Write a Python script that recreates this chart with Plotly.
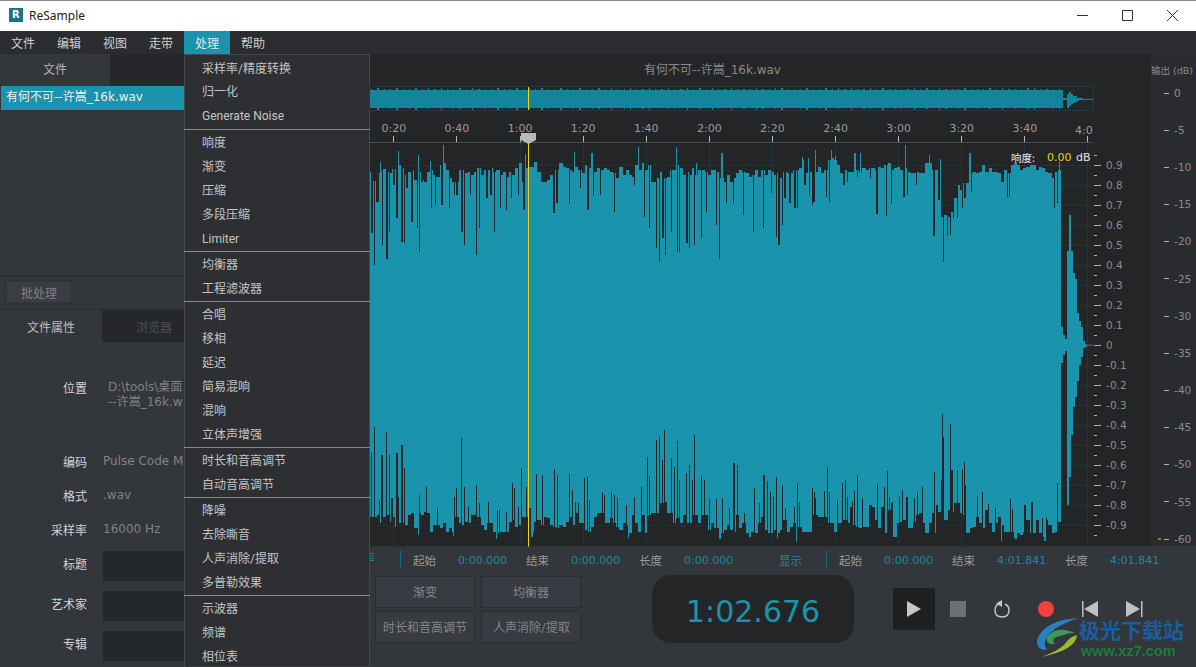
import plotly.graph_objects as go

W, H = 1196, 667

# waveform envelope, one value per second starting at 0:13
wave_top = [.865,.82,.86,.87,.88,.865,.86,.88,
    .88,.90,.885,.852,.868,.877,.827,.868,.827,.818,
    .868,.877,.852,.843,.90,.91,.877,.835,.818,.818,
    .877,.877,.86,.868,.852,.868,.885,.852,.877,.877,
    .885,.868,.877,.852,.868,.843,.868,.852,.885,.91,
    .818,.885,.893,.893,.918,.868,.818,.818,.827,.852,
    .877,.877,.91,.893,.885,.877,.868,.89,.877,.86,
    .90,.885,.90,.868,.885,.877,.885,.877,.868,.86,
    .835,.893,.852,.877,.852,.843,.90,.877,.91,.877,
    .90,.818,.818,.835,.868,.835,.843,.877,.877,.90,
    .885,.852,.868,.852,.885,.852,.877,.877,.868,.852,
    .877,.877,.868,.835,.818,.852,.818,.835,.86,.877,
    .868,.86,.843,.852,.877,.843,.877,.852,.877,.868,
    .85,.86,.835,.868,.86,.86,.877,.877,.885,.926,
    .86,.868,.926,.868,.893,.86,.877,.926,.935,.926,
    .90,.86,.877,.868,.868,.868,.877,.86,.885,.877,
    .885,.885,.877,.893,.885,.90,.91,.877,.885,.893,
    .877,.885,.868,.86,.86,.868,.86,.86,.91,.91,
    .877,.877,.727,.643,.652,.643,.668,.735,.80,.777,
    .81,.81,.86,.868,.86,.868,.90,.868,.885,.868,
    .868,.86,.818,.877,.86,.90,.91,.90,.877,.885,
    .893,.90,.90,.877,.893,.885,.868,.86,.835,.868,.877]
wave_bottom = [-.857,-.857,-.849,-.89,-.857,-.849,-.882,-.857,
    -.907,-.89,-.89,-.899,-.849,-.84,-.915,-.84,-.849,-.832,
    -.84,-.932,-.899,-.899,-.915,-.89,-.932,-.915,-.932,-.857,
    -.89,-.899,-.882,-.89,-.849,-.849,-.857,-.899,-.924,-.89,
    -.89,-.932,-.94,-.932,-.932,-.932,-.882,-.874,-.907,-.899,
    -.857,-.857,-.815,-.932,-.882,-.874,-.899,-.857,-.865,-.899,
    -.907,-.915,-.899,-.907,-.882,-.857,-.899,-.84,-.89,-.89,
    -.924,-.932,-.907,-.857,-.84,-.84,-.89,-.89,-.865,-.89,
    -.907,-.924,-.89,-.899,-.94,-.849,-.89,-.932,-.849,-.94,
    -.849,-.84,-.84,-.84,-.79,-.782,-.84,-.84,-.89,-.865,
    -.89,-.849,-.89,-.89,-.849,-.849,-.89,-.849,-.849,-.924,
    -.89,-.915,-.915,-.94,-.924,-.899,-.924,-.932,-.849,-.915,
    -.89,-.94,-.932,-.932,-.94,-.89,-.857,-.924,-.94,-.94,
    -.924,-.94,-.924,-.874,-.932,-.907,-.89,-.907,-.907,-.932,
    -.932,-.932,-.849,-.849,-.857,-.857,-.857,-.89,-.89,-.932,
    -.89,-.89,-.874,-.89,-.807,-.899,-.907,-.915,-.907,-.907,
    -.798,-.807,-.874,-.915,-.807,-.94,-.824,-.79,-.957,-.89,
    -.882,-.874,-.915,-.915,-.882,-.849,-.84,-.89,-.94,-.89,
    -.84,-.94,-.832,-.674,-.874,-.824,-.832,-.79,-.79,-.84,
    -.849,-.94,-.915,-.907,-.857,-.89,-.915,-.824,-.89,-.932,
    -.89,-.857,-.899,-.932,-.932,-.932,-.965,-.94,-.948,-.932,
    -.874,-.94,-.94,-.874,-.94,-.957,-.874,-.899,-.94,-.932,-.882]

# dark one-pixel gaps cutting into the upper half
notch_top_t = [13.1,13.9,14.7,15.2,16.3,17.8,18.7,20,21,22.6,23.4,24.2,25.8,27.4,28.2,28.9,31.9,33.3,35.3,37.7,
    39.3,40,41.6,42.4,44.2,46.2,47.2,49.5,50.8,52,53.7,55.6,57.4,59.6,61.3,62.7,67.5,70.8,71.7,75.7,
    79.1,81.5,83.3,85.4,90,96.2,99.5,101,103.3,104.2,105.3,106.2,108.1,109.9,110.5,112.9,113.7,115.3,117.6,119.2,
    122.2,123.2,125.5,127.7,130.8,134,137.2,139.8,141.2,142.1,143.2,144,145.6,147.2,147.9,150.3,151.7,152.7,153.2,157.2,
    158,162.7,163.8,166.9,171,173.1,176.2,177.8,181.7,182.8,185.7,191.2,193.6,194.2,195.4,196.5,197.3,198.6,200.2,201,
    203.2,214.4,215.1,229.3,230.3]
notch_top = [.56,.402,.718,.718,.502,.432,.568,.802,.635,.518,.51,.785,.618,.585,.468,.818,.685,.702,.702,.685,
    .75,.75,.568,.502,.75,.452,.585,.735,.75,.568,.685,.677,.735,.75,.677,.75,.818,.66,.71,.71,
    .785,.677,.75,.75,.668,.802,.643,.585,.488,.415,.535,.452,.568,.468,.468,.51,.485,.502,.535,.668,
    .60,.432,.71,.71,.652,.568,.585,.76,.54,.50,.60,.735,.71,.685,.685,.80,.752,.70,.718,.743,
    .718,.80,.818,.843,.835,.657,.647,.713,.743,.752,.80,.547,.685,.418,.547,.55,.635,.635,.685,.735,
    .768,.743,.743,.685,.713]

# thin peaks standing above the upper envelope
peak_top_t = [15.7,21.5,25.8,27.9,29,31.6,35.8,50.6,61.7,77.3,82.8,97.6,109.5,116,124,134,145.6,149.5,151.4,153.6,
    158.8,159.9,166.2,168,182.2,189.7,193.3,202.6,231.1]
peak_top = [.915,.97,.94,.95,.95,.92,1.0,.95,.955,.965,.96,.99,.99,.91,.96,.92,.918,.94,.935,.978,
    .977,.946,.96,.963,1.0,.95,.93,.963,.918]

# dark gaps cutting into the lower half
notch_bot_t = [13,13.9,15.5,16.2,17.7,18.7,19.4,21,21.5,22.6,23.4,28.2,30.4,33.9,39.3,39.9,41.5,42.4,43.7,46.2,
    47.2,50,52.9,53.5,55.8,57.6,58.3,59.6,60.5,62.1,65.3,67.2,71,71.9,75.7,76.7,77.6,78.6,80.5,81.4,
    82,86.2,86.8,89,90,91,93.8,96.3,98.5,100.4,101,103.3,104.2,105.2,105.8,108,109,109.9,110.6,112.8,
    113.7,114.7,115.3,117.5,118.5,120.1,122.3,124.2,126.4,127.8,128.9,131.1,134.3,135.9,137.3,138.4,139.3,140.3,141.2,143.1,
    144.1,147,147.9,148.5,152.6,153.3,153.6,156.4,157.4,158,160.6,162.2,163.1,163.7,165.3,166,166.9,168.5,173.2,175.5,
    176.4,177,178,180.2,181.2,182.7,185,185.9,187.5,191.3,192.2,194,194.2,196.4,196.9,198.6,200.2,200.8,201.1,204.9,
    206.5,208.4,210.6,215.4,216,220.1,222.3,225.5,226.8,230.3]
notch_bot = [-.54,-.407,-.774,-.549,-.432,-.549,-.765,-.54,-.757,-.499,-.615,-.749,-.707,-.815,-.757,-.715,-.465,-.707,-.807,-.699,
    -.79,-.782,-.824,-.824,-.832,-.69,-.715,-.807,-.615,-.707,-.644,-.649,-.62,-.649,-.644,-.724,-.782,-.79,-.665,-.66,
    -.774,-.732,-.749,-.732,-.749,-.765,-.799,-.757,-.71,-.56,-.657,-.474,-.457,-.574,-.424,-.565,-.607,-.477,-.674,-.64,
    -.599,-.674,-.449,-.654,-.674,-.765,-.77,-.765,-.815,-.59,-.599,-.84,-.715,-.79,-.649,-.678,-.732,-.76,-.66,-.699,
    -.812,-.807,-.687,-.782,-.715,-.732,-.765,-.727,-.61,-.732,-.774,-.69,-.674,-.757,-.777,-.727,-.649,-.762,-.695,-.71,
    -.627,-.76,-.785,-.757,-.724,-.757,-.762,-.732,-.707,-.632,-.799,-.344,-.457,-.394,-.624,-.624,-.617,-.585,-.699,-.754,
    -.732,-.794,-.815,-.769,-.819,-.799,-.785,-.865,-.865,-.69]

# thin peaks standing below the lower envelope
peak_bot_t = [20.8,27.9,39,52.7,63.8,94.4,123.4,132.9,136,141.7,147.7,178.3,212.6,217.2,226.4]
peak_bot = [-.957,-.948,-.954,-.97,-.96,-.965,-.968,-.957,-.96,-.965,-.982,-.957,-.977,-.97,-.977]

# fade-out after the gap at the end of the track
tail_t = [231.8,232.4,233,233.7,234.3,234.9,235.6,236.2,236.8,237.5,238.1,238.7,239.4]
tail_top = [.09,.05,.03,.47,.65,.47,.36,.33,.16,.12,.09,.02,.006]
tail_bottom = [-.09,-.05,-.03,-.80,-.66,-.45,-.31,-.26,-.18,-.10,-.06,-.015,-.006]

# overview strip: solid core, plus thin peaks every two seconds starting at 0:13
overview_core = [-.82, .93]
overview_top = [.98,1.06,.96,1.02,1.08,.97,1.0,1.05,.96,1.03,.98,1.08,.97,1.0,1.04,.96,1.07,.98,1.02,.96,
    1.05,.97,1.0,1.08,.98,1.03,.96,1.05,1.0,.97,1.06,.98,1.02,1.08,.96,1.0,1.04,.97,1.07,.98,
    1.0,1.05,.96,1.02,1.08,.98,.96,1.04,1.0,.97,1.06,.98,1.03,.96,1.1,1.0,.97,1.05,.98,1.02,
    .96,1.07,1.0,.97,1.04,1.08,.98,.96,1.02,1.05,.97,1.0,1.06,.96,1.03,.98,1.07,.97,1.0,1.04,
    .96,1.05,.98,1.02,1.0,.96,1.06,.97,1.03,.98,1.05,1.0,.96,1.02,1.07,.98,1.0,.97,1.04,.96,
    1.05,.98,1.0,.97,1.03,1.06,.98,.96,1.0,1.02]
overview_bottom = [-.86,-1.0,-.84,-.92,-.98,-.85,-.88,-1.02,-.84,-.9,-.86,-1.0,-.84,-.88,-.96,-.85,-1.02,-.86,-.9,-.84,
    -.98,-.85,-.88,-1.0,-.86,-.92,-.84,-.98,-.88,-.85,-1.0,-.86,-.9,-1.02,-.84,-.88,-.96,-.85,-1.0,-.86,
    -.88,-.98,-.84,-.9,-1.0,-.86,-.84,-.96,-.88,-.85,-1.0,-.86,-.92,-.84,-1.02,-.88,-.85,-.98,-.86,-.9,
    -.84,-1.0,-.88,-.85,-.96,-1.02,-.86,-.84,-.9,-.98,-.85,-.88,-1.0,-.84,-.92,-.86,-1.0,-.85,-.88,-.96,
    -.84,-.98,-.86,-.9,-.88,-.84,-1.0,-.85,-.92,-.86,-.98,-.88,-.84,-.9,-1.0,-.86,-.88,-.85,-.96,-.84,
    -.98,-.86,-.88,-.85,-.92,-1.0,-.86,-.84,-.88,-.9]

playhead_t = 62.676
time_ticks = [20,40,60,80,100,120,140,160,180,200,220,240]
time_labels = ["0:20","0:40","1:00","1:20","1:40","2:00","2:20","2:40","3:00","3:20","3:40",""]
amp_ticks = [.9,.8,.7,.6,.5,.4,.3,.2,.1,0,-.1,-.2,-.3,-.4,-.5,-.6,-.7,-.8,-.9]
amp_labels = ["0.9","0.8","0.7","0.6","0.5","0.4","0.3","0.2","0.1","0","-0.1","-0.2","-0.3","-0.4","-0.5","-0.6","-0.7","-0.8","-0.9"]
amp_minor = [.95,.85,.75,.65,.55,.45,.35,.25,.15,.05,-.05,-.15,-.25,-.35,-.45,-.55,-.65,-.75,-.85,-.95]
db_ticks = [0,-5,-10,-15,-20,-25,-30,-35,-40,-45,-50,-55,-60]
db_labels = ["0","-5","-10","-15","-20","-25","-30","-35","-40","-45","-50","-55","-60"]
level_db = -60

menu_bar = ["文件","编辑","视图","走带","处理","帮助"]
menu_items = ["采样率/精度转换","归一化","Generate Noise",
    "响度","渐变","压缩","多段压缩","Limiter",
    "均衡器","工程滤波器",
    "合唱","移相","延迟","简易混响","混响","立体声增强",
    "时长和音高调节","自动音高调节",
    "降噪","去除嘶音","人声消除/提取","多普勒效果",
    "示波器","频谱","相位表"]
menu_item_y = [68,92,116.5,142.5,166.5,190.5,214.5,238.5,264.5,288.5,314.5,338.5,362.5,386.5,410.5,434.5,460.5,484.5,510.5,534.5,558.5,582.5,608.5,632.5,656.5]
menu_sep_y = [129,251,301,447,497,595]

TEAL = "#1a93ad"
BG = "#242527"
PANEL = "#33363b"
CJK = "Noto Sans CJK SC"
MIX = "DejaVu Sans, Noto Sans CJK SC"
MENU = "Roboto, Noto Sans CJK SC"
LAT = "DejaVu Sans"

shapes = []
notes = []


def px(x):
    return x / W


def py(y):
    return 1 - y / H


def pt(x, y):
    return f"{px(x):.5f} {py(y):.5f}"


def box(x0, y0, x1, y1, fill, line=None, layer="below"):
    shapes.append(dict(type="rect", xref="paper", yref="paper", x0=px(x0), x1=px(x1), y0=py(y0), y1=py(y1),
                       fillcolor=fill, line=dict(color=line or fill, width=1 if line else 0), layer=layer))


def path(d, fill=None, line=None, width=1, layer="below"):
    shapes.append(dict(type="path", xref="paper", yref="paper", path=d,
                       fillcolor=fill or "rgba(0,0,0,0)", line=dict(color=line or "rgba(0,0,0,0)", width=width if line else 0), layer=layer))


def poly(points, fill, layer="below"):
    path("M" + " L".join(pt(x, y) for x, y in points) + " Z", fill=fill, layer=layer)


def seg(x0, y0, x1, y1, color, width=1):
    shapes.append(dict(type="line", xref="paper", yref="paper", x0=px(x0), x1=px(x1), y0=py(y0), y1=py(y1),
                       line=dict(color=color, width=width), layer="below"))


def label(x, y, s, size=12, color="#c8c8c8", anchor="center", family=CJK, bold=False):
    if bold:
        s = "<b>" + s + "</b>"
    # annotations sit about a pixel inside their anchor
    nudge = {"left": -1.2, "right": 1.0, "center": 0}[anchor]
    notes.append(dict(x=px(x + nudge), y=py(y), xref="paper", yref="paper", text=s, showarrow=False, xanchor=anchor,
                      yanchor="middle", align="left", borderpad=0, font=dict(size=size, color=color, family=family)))


# window frame
box(0, 0, W, 31, "#ffffff")
seg(0, 0.5, W, 0.5, "#8a8a8a")
box(9, 8, 23, 22, "#1c7386")
label(16, 15, "R", 10, "#ffffff", family=LAT, bold=True)
label(29, 15.5, "ReSample", 12, "#222222", "left", "Noto Sans")
seg(1077, 15.5, 1088, 15.5, "#333333")
box(1122.5, 10.5, 1132.5, 20.5, "rgba(0,0,0,0)", "#333333")
seg(1167, 10, 1178, 21, "#333333")
seg(1178, 10, 1167, 21, "#333333")

# menu bar
box(0, 31, W, 54, "#2b2c2f")
box(184, 31, 230, 54, TEAL)
for i, name in enumerate(menu_bar):
    label(23 + i * 46, 42.5, name, 12, "#d0d0d0" if i != 4 else "#e8e8e8")

# left panel
box(0, 54, 370, 667, PANEL)
box(110, 54, 184, 86, "#25272a")
label(55, 69, "文件", 12, "#b4b4b4")
box(1, 86, 184, 110, TEAL)
label(6, 97.5, "有何不可--许嵩_16k.wav", 12, "#f0f0f0", "left", MIX)
seg(0, 276, 184, 276, "#292b2e")
box(6, 281, 72, 303, "#3a3d43", "#2c2e32")
label(39, 292.5, "批处理", 12, "#7f8184")
box(0, 309, 184, 310, "#292b2e")
box(102, 310, 184, 342, "#25272a")
label(51, 326, "文件属性", 12, "#bdbdbd")
label(154, 326, "浏览器", 12, "#4e5155")
for yy, name in [(387, "位置"), (461, "编码"), (495, "格式"), (529, "采样率"), (563, "标题"), (603, "艺术家"), (643, "专辑")]:
    label(87, yy, name, 12, "#d4d4d4", "right")
label(108, 387, "D:\\tools\\桌面", 12, "#808285", "left", MIX)
label(108, 402, "--许嵩_16k.w", 12, "#808285", "left", MIX)
label(103, 461, "Pulse Code M", 12, "#808285", "left", LAT)
label(103, 495, ".wav", 12, "#808285", "left", LAT)
label(103, 529, "16000 Hz", 12, "#808285", "left", LAT)
for yy in (551, 591, 631):
    box(103, yy, 184, yy + 30, "#25282b")

# main waveform area
box(370, 54, 1151, 546, BG)
box(1151, 54, W, 546, "#292b2e")
label(712, 70.5, "有何不可--许嵩_16k.wav", 12, "#8a8a8a", "center", MIX)
label(1172, 70.5, "输出 (dB)", 9.5, "#8a8a8a", "center", MIX)
label(1093, 130, "4:0", 11, "#9a9a9a", "right", LAT)
label(1011, 157, "响度:", 10.5, "#e4e4e4", "left")
label(1047, 157, "0.00", 11, "#e6d317", "left", LAT)
label(1076, 157, "dB", 11, "#e4e4e4", "left", LAT)
poly([(521, 133), (536, 133), (536, 140), (528.5, 144), (521, 140)], "#b9b9b9", layer="above")

# drop-down menu
box(184.5, 54.5, 369.5, 667, "#2e2f33", "#45484c")
for yy, name in zip(menu_item_y, menu_items):
    label(202, yy, name, 12, "#c4c4c4", "left", MENU)
for yy in menu_sep_y:
    seg(184, yy + 0.5, 370, yy + 0.5, "#8a8a8a")

# bottom strip
box(370, 546, W, 667, PANEL)
seg(400.5, 551, 400.5, 567, "#176e80")
seg(826.5, 551, 826.5, 567, "#176e80")
for x, name, color in [(425, "起始", "#9a9a9a"), (538, "结束", "#9a9a9a"), (651, "长度", "#9a9a9a"), (791, "显示", "#1a8aa3"),
                       (851, "起始", "#9a9a9a"), (964, "结束", "#9a9a9a"), (1077, "长度", "#9a9a9a")]:
    label(x, 560, name, 11.5, color)
for x, val in [(482, "0:00.000"), (595, "0:00.000"), (708, "0:00.000"), (908, "0:00.000"), (1021, "4:01.841"), (1134, "4:01.841")]:
    label(x, 560.5, val, 11, "#1a8aa3", family=LAT)
for x0, y0, name in [(375.5, 576.5, "渐变"), (481.5, 576.5, "均衡器"), (375.5, 611.5, "时长和音高调节"), (481.5, 611.5, "人声消除/提取")]:
    box(x0, y0, x0 + 99, y0 + 31, "#383b42", "#2b2d31")
    label(x0 + 49.5, y0 + 16, name, 12, "#858789", family=MENU)

# big time readout
path(f"M{pt(674,575)} L{pt(832,575)} Q{pt(854,575)} {pt(854,597)} L{pt(854,621)} Q{pt(854,643)} {pt(832,643)} "
     f"L{pt(674,643)} Q{pt(652,643)} {pt(652,621)} L{pt(652,597)} Q{pt(652,575)} {pt(674,575)} Z", fill=BG)
label(753, 611, "1:02.676", 30, TEAL, family=LAT)

# transport buttons
box(893, 588, 935, 630, "#1f2022")
poly([(907, 601), (921, 609), (907, 617)], "#c8c8c8")
box(950, 601, 966, 617, "#6e7076")
path(f"M{pt(1000,603.5)} Q{pt(995,605)} {pt(995,610)} Q{pt(995,617)} {pt(1002,617)} Q{pt(1009,617)} {pt(1009,610)} Q{pt(1009,606)} {pt(1005,604)}",
     line="#c4c4c4", width=1.5)
poly([(1002, 600), (1002, 607), (996, 603.5)], "#c4c4c4")
shapes.append(dict(type="circle", xref="paper", yref="paper", x0=px(1038), x1=px(1054), y0=py(601), y1=py(617),
                   fillcolor="#f44040", line=dict(width=0), layer="below"))
box(1082, 601, 1083.5, 617, "#c0c0c0")
poly([(1098, 601), (1084, 609), (1098, 617)], "#c0c0c0")
box(1141, 601, 1142.5, 617, "#c0c0c0")
poly([(1126, 601), (1140, 609), (1126, 617)], "#c0c0c0")

# site watermark
path(f"M{pt(1079,618)} Q{pt(1044,620)} {pt(1037,640)} Q{pt(1036,650)} {pt(1047,650)} Q{pt(1040,640)} {pt(1056,628)} Q{pt(1066,622)} {pt(1079,618)} Z", fill="#2a7fc0")
path(f"M{pt(1075,633)} Q{pt(1056,625)} {pt(1047,637)} Q{pt(1045,645)} {pt(1055,644)} Q{pt(1050,638)} {pt(1060,636)} Q{pt(1068,633)} {pt(1075,633)} Z", fill="#3a9a58")
path(f"M{pt(1077,635)} Q{pt(1076,650)} {pt(1041,657)} Q{pt(1062,650)} {pt(1068,640)} Q{pt(1072,636)} {pt(1077,635)} Z", fill="#9fb82e")
label(1079, 629, "极光下载站", 21, "#1b5e9e", "left", bold=True)
label(1080, 651, "www.xz7.com", 14.5, "#1d7a3e", "left", "Liberation Sans", bold=True)

fig = go.Figure()


def bars(t, low, high, color, width, xa="x", ya="y"):
    fig.add_trace(go.Bar(x=t, y=[h - l for h, l in zip(high, low)], base=low, width=width, marker=dict(color=color, line=dict(width=0)),
                         xaxis=xa, yaxis=ya, hoverinfo="skip", showlegend=False))


wave_t = list(range(13, 13 + len(wave_top)))
overview_t = list(range(13, 13 + 2 * len(overview_top), 2))
THIN = 0.1  # plotly widens very thin bars to one whole pixel

# main display
bars(wave_t, wave_bottom, wave_top, TEAL, 1)
bars(peak_top_t, [0.5] * len(peak_top), peak_top, TEAL, THIN)
bars(peak_bot_t, peak_bot, [-0.5] * len(peak_bot), TEAL, THIN)
bars(notch_top_t, notch_top, [1.05] * len(notch_top), BG, THIN)
bars(notch_bot_t, [-1.05] * len(notch_bot), notch_bot, BG, THIN)
bars(tail_t, tail_bottom, tail_top, TEAL, 0.64)
fig.add_trace(go.Scatter(x=[tail_t[-1], 241.8], y=[0, 0], mode="lines", line=dict(color="#6f3f63", width=1.5), hoverinfo="skip", showlegend=False))
fig.add_trace(go.Scatter(x=[playhead_t, playhead_t], y=[-1.1, 1.1], mode="lines", line=dict(color="#f2d90c", width=1), hoverinfo="skip", showlegend=False))

# overview strip
OV = "#14849c"
bars(overview_t, [overview_core[0]] * len(overview_t), [overview_core[1]] * len(overview_t), OV, 2, "x2", "y2")
bars(overview_t, [0] * len(overview_t), overview_top, OV, THIN, "x2", "y2")
bars(overview_t, overview_bottom, [0] * len(overview_t), OV, THIN, "x2", "y2")
bars(tail_t, tail_bottom, tail_top, OV, 0.64, "x2", "y2")
fig.add_trace(go.Scatter(x=[tail_t[-1], 241.8], y=[0, 0], mode="lines", line=dict(color=OV, width=1), xaxis="x2", yaxis="y2", hoverinfo="skip", showlegend=False))
fig.add_trace(go.Scatter(x=[playhead_t, playhead_t], y=[-1.2, 1.2], mode="lines", line=dict(color="#f2d90c", width=1), xaxis="x2", yaxis="y2", hoverinfo="skip", showlegend=False))

# output meter
fig.add_trace(go.Scatter(x=[7, 10], y=[level_db, level_db], mode="lines", line=dict(color="#e6d317", width=1), xaxis="x3", yaxis="y3", hoverinfo="skip", showlegend=False))

# half of a label clipped by the menu edge
fig.add_trace(go.Scatter(x=[369], y=[560], mode="text", text=["率"], textfont=dict(size=12, color="#1a8aa3", family=CJK), cliponaxis=True,
                         xaxis="x4", yaxis="y4", hoverinfo="skip", showlegend=False))

GRID = "#21333b"
x_span = [12.44, 241.61]
fig.update_layout(
    width=W, height=H, margin=dict(l=0, r=0, t=0, b=0), autosize=False,
    paper_bgcolor=PANEL, plot_bgcolor="rgba(0,0,0,0)", barmode="overlay", bargap=0,
    showlegend=False, shapes=shapes, annotations=notes,
    xaxis=dict(domain=[px(370), px(1093)], range=x_span, anchor="y", side="top", tickvals=time_ticks, ticktext=time_labels,
               ticks="outside", ticklen=6, tickcolor="#b8b8b8", tickwidth=1, showline=True, linecolor="#4a4b4d", linewidth=1,
               showgrid=True, gridcolor=GRID, gridwidth=1, zeroline=False,
               tickfont=dict(size=11, color="#9a9a9a", family=LAT), fixedrange=True),
    yaxis=dict(domain=[py(546.5), py(143)], range=[-1.006, 1.0115], anchor="x", side="right", tickvals=amp_ticks, ticktext=amp_labels,
               ticks="outside", ticklen=7, tickcolor="#b0b0b0", tickwidth=1, showline=False, showgrid=True, gridcolor=GRID, gridwidth=1,
               zeroline=False, tickfont=dict(size=10.5, color="#8c8c8c", family=LAT), fixedrange=True, ticklabelstandoff=3,
               minor=dict(tickvals=amp_minor, ticks="outside", ticklen=3, tickcolor="#b0b0b0", tickwidth=1, showgrid=False)),
    xaxis2=dict(domain=[px(370), px(1093)], range=x_span, anchor="y2", showticklabels=False, ticks="", showgrid=False, zeroline=False,
                showline=True, linecolor="#1f3a44", mirror=True, fixedrange=True),
    yaxis2=dict(domain=[py(110), py(87)], range=[-1.02, 1.17], anchor="x2", showticklabels=False, ticks="", showgrid=False, zeroline=False,
                showline=True, linecolor="#1f3a44", mirror=True, fixedrange=True),
    xaxis3=dict(domain=[px(1151), px(1163)], range=[0, 12], anchor="y3", visible=False, fixedrange=True),
    yaxis3=dict(domain=[py(546), py(54)], range=[-60.94, 5.25], anchor="x3", side="right", tickvals=db_ticks, ticktext=db_labels,
                ticks="outside", ticklen=5, tickcolor="#b0b0b0", tickwidth=1, showline=False, showgrid=False, zeroline=False,
                tickfont=dict(size=10.5, color="#8c8c8c", family=LAT), fixedrange=True, ticklabelstandoff=3),
    xaxis4=dict(domain=[px(370), px(378)], range=[370, 378], anchor="y4", visible=False, fixedrange=True),
    yaxis4=dict(domain=[py(568), py(552)], range=[568, 552], anchor="x4", visible=False, fixedrange=True),
)

fig.write_html("out.html", config=dict(displayModeBar=False), post_script="document.body.style.margin='0';document.body.style.overflow='hidden';")
